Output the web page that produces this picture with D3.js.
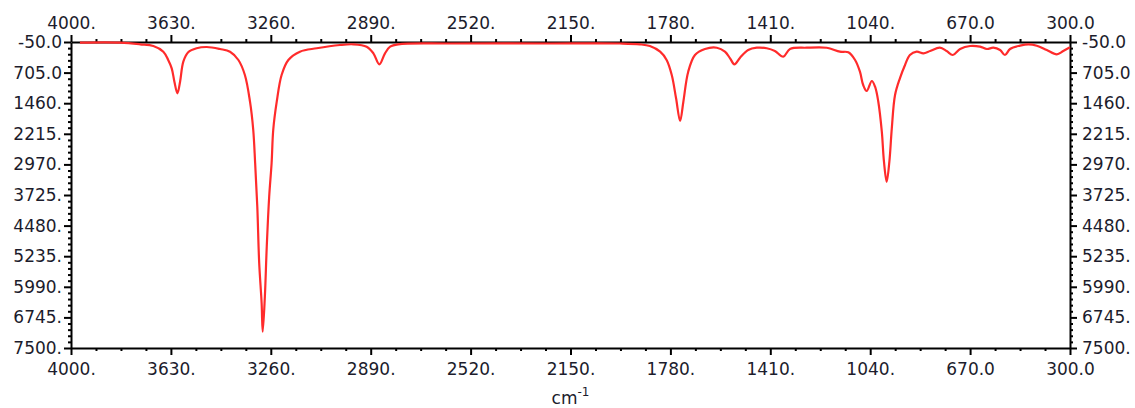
<!DOCTYPE html>
<html>
<head>
<meta charset="utf-8">
<script src="https://cdn.jsdelivr.net/npm/d3@7"></script>
<style>
  html, body { margin: 0; padding: 0; background: #fff; }
  svg { display: block; }
</style>
</head>
<body>
<svg id="chart" width="1135" height="408"></svg>
<script>
// espectro IR, eje x invertido (cm-1), eje y crece hacia abajo
const wavenumbers = [
  3967, 3818, 3744, 3695, 3658, 3640, 3627, 3617, 3606, 3596, 3584, 3566, 3535, 3497,
  3448, 3411, 3380, 3356, 3337, 3325, 3318, 3310, 3303, 3294, 3290, 3282, 3275, 3266,
  3257, 3251, 3238, 3220, 3195, 3152, 3090, 3004, 2954, 2905, 2880, 2858, 2837, 2818,
  2788, 2596, 2226, 1967, 1893, 1856, 1818, 1794, 1775, 1759, 1744, 1732, 1714, 1689,
  1652, 1608, 1578, 1559, 1543, 1522, 1492, 1460, 1423, 1393, 1362, 1337, 1275, 1201,
  1152, 1121, 1096, 1078, 1066, 1053, 1034, 1022, 1010, 997, 989, 979, 969, 960,
  948, 930, 911, 893, 868, 843, 818, 782, 757, 734, 707, 670, 633, 608,
  584, 559, 541, 522, 485, 454, 423, 386, 349, 325, 300
];
const intensity = [
  -33, -33, 7, 49, 189, 394, 599, 930, 1216, 930, 436, 204, 105, 73,
  123, 189, 394, 764, 1423, 2121, 2935, 4014, 5403, 6390, 7099, 6234, 5001, 3767,
  2935, 2121, 1423, 764, 394, 189, 105, 24, 7, 66, 229, 500, 229, 66,
  7, -13, -13, -13, 7, 49, 189, 394, 764, 1339, 1899, 1423, 683, 271,
  123, 91, 189, 352, 500, 337, 147, 91, 105, 172, 313, 123, 91, 91,
  189, 204, 394, 683, 1011, 1159, 912, 1053, 1423, 2163, 2903, 3397, 2903, 2079,
  1258, 846, 517, 271, 189, 229, 172, 91, 172, 271, 123, 49, 66, 123,
  91, 147, 271, 123, 41, 7, 41, 147, 253, 172, 81
];

const xTicks = [4000, 3630, 3260, 2890, 2520, 2150, 1780, 1410, 1040, 670, 300];
const xTickLabels = ['4000.', '3630.', '3260.', '2890.', '2520.', '2150.', '1780.', '1410.', '1040.', '670.0', '300.0'];
const yTicks = [-50, 705, 1460, 2215, 2970, 3725, 4480, 5235, 5990, 6745, 7500];
const yTickLabels = ['-50.0', '705.0', '1460.', '2215.', '2970.', '3725.', '4480.', '5235.', '5990.', '6745.', '7500.'];
const xTitle = 'cm';
const xTitleSup = '-1';

const W = 1135, H = 408;
const margin = { top: 42, right: 65, bottom: 60, left: 71 };
const FONT = '"DejaVu Sans", Verdana, sans-serif';
const INK = '#1c1c2c';

const svg = d3.select('#chart');

const x = d3.scaleLinear().domain([4000, 300]).range([margin.left, W - margin.right]);
const y = d3.scaleLinear().domain([-50, 7500]).range([margin.top, H - margin.bottom]);

// ticks menores: 3 entre mayores en x, 4 en y
const xMinor = d3.range(4000, 299, -92.5).filter(v => !xTicks.some(t => Math.abs(t - v) < 1));
const yMinor = d3.range(-50, 7501, 151).filter(v => !yTicks.some(t => Math.abs(t - v) < 1));

function styleAxis(g) {
  g.select('.domain').attr('stroke', '#000').attr('stroke-width', 2);
  g.selectAll('.tick line').attr('stroke', '#000').attr('stroke-width', 2);
  g.selectAll('text').attr('fill', INK).attr('font-family', FONT).attr('font-size', 17);
}

function minorAxis(axis, vals, tr) {
  svg.append('g').attr('transform', tr)
    .call(axis.tickValues(vals).tickSize(3).tickFormat(''))
    .call(g => g.select('.domain').remove())
    .call(g => g.selectAll('.tick line').attr('stroke', '#000').attr('stroke-width', 2));
}

const fmtX = d => xTickLabels[xTicks.indexOf(d)];
const fmtY = d => yTickLabels[yTicks.indexOf(d)];

const bottomY = H - margin.bottom, rightX = W - margin.right;

minorAxis(d3.axisBottom(x), xMinor, `translate(0,${bottomY})`);
minorAxis(d3.axisTop(x), xMinor, `translate(0,${margin.top})`);
minorAxis(d3.axisLeft(y), yMinor, `translate(${margin.left},0)`);
minorAxis(d3.axisRight(y), yMinor, `translate(${rightX},0)`);

svg.append('g').attr('transform', `translate(0,${bottomY})`)
  .call(d3.axisBottom(x).tickValues(xTicks).tickFormat(fmtX).tickSize(7).tickSizeOuter(0).tickPadding(8))
  .call(styleAxis);
svg.append('g').attr('transform', `translate(0,${margin.top})`)
  .call(d3.axisTop(x).tickValues(xTicks).tickFormat(fmtX).tickSize(7).tickSizeOuter(0).tickPadding(6))
  .call(styleAxis);
svg.append('g').attr('transform', `translate(${margin.left},0)`)
  .call(d3.axisLeft(y).tickValues(yTicks).tickFormat(fmtY).tickSize(7).tickSizeOuter(0).tickPadding(2))
  .call(styleAxis);
svg.append('g').attr('transform', `translate(${rightX},0)`)
  .call(d3.axisRight(y).tickValues(yTicks).tickFormat(fmtY).tickSize(7).tickSizeOuter(0).tickPadding(5))
  .call(styleAxis);

// espectro
const pts = wavenumbers.map((w, i) => [w, intensity[i]]);
const line = d3.line()
  .x(d => x(d[0]))
  .y(d => y(d[1]))
  .curve(d3.curveCatmullRom.alpha(0.5));

svg.append('path')
  .datum(pts)
  .attr('fill', 'none')
  .attr('stroke', '#ff2b2b')
  .attr('stroke-width', 2.2)
  .attr('stroke-linejoin', 'round')
  .attr('d', line);

// titulo eje x
const t = svg.append('text')
  .attr('x', (margin.left + rightX) / 2)
  .attr('y', 404)
  .attr('text-anchor', 'middle')
  .attr('fill', INK)
  .attr('font-family', FONT)
  .attr('font-size', 17);
t.append('tspan').text(xTitle);
t.append('tspan').attr('dy', -8).attr('font-size', 12).text(xTitleSup);
</script>
</body>
</html>
